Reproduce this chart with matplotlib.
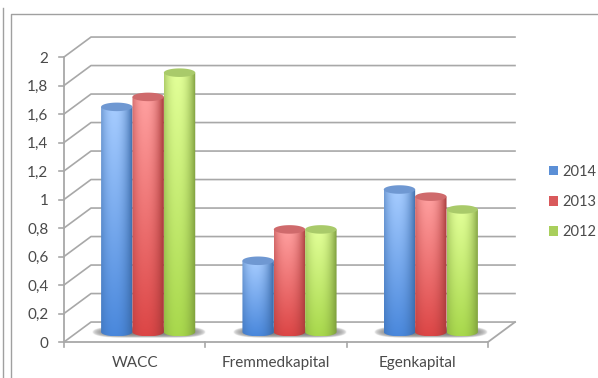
import numpy as np
import matplotlib
matplotlib.use("Agg")
import matplotlib.pyplot as plt
from matplotlib.colors import to_rgb
from matplotlib.lines import Line2D
from matplotlib.patches import Patch, PathPatch
from matplotlib.path import Path

categories = ["WACC", "Fremmedkapital", "Egenkapital"]
years = ["2014", "2013", "2012"]
values_2014 = [1.58, 0.50, 1.00]
values_2013 = [1.65, 0.72, 0.95]
values_2012 = [1.82, 0.72, 0.86]
ticks = [0, 0.2, 0.4, 0.6, 0.8, 1, 1.2, 1.4, 1.6, 1.8, 2]
tick_labels = ["0", "0,2", "0,4", "0,6", "0,8", "1", "1,2", "1,4", "1,6", "1,8", "2"]

# light top, deep bottom, dark edge, cap colour, legend colour
palette = [
    ("#a6ccff", "#4a88dc", "#3a6aa8", "#6f98d2", "#5b8fd6"),
    ("#ffa0a0", "#dc4646", "#a83a3a", "#cf6a6c", "#d9595b"),
    ("#e2ff98", "#a8d84c", "#7c9c3c", "#a9ca6a", "#a9cf5c"),
]

GRID = "#a8a8a8"
TEXT = "#4a4a4a"
BAR_W = 0.222
DX = 0.191   # depth of the floor, x units
DY = 0.14    # depth of the floor, y units
CAP = 0.03   # half height of the cylinder ellipse

plt.rcParams["font.family"] = ["Lato", "DejaVu Sans"]
fig = plt.figure(figsize=(5.98, 3.78), dpi=100)
ax = fig.add_axes([64 / 598, 36 / 378, 424 / 598, 285 / 378])
ax.axis("off")


def cylinder(xc, value, cols):
    top, bottom, edge, cap, _ = [np.array(to_rgb(c)) for c in cols]
    base = DY / 2
    h = value + base

    # body shading: bright band left of centre, dark towards both edges
    t = np.linspace(0, 1, 80)
    shade = (np.abs(t - 0.42) / 0.58) ** 2.2
    v = np.linspace(0, 1, 80)
    img = bottom + (top - bottom) * v[:, None, None]
    img = img * (1 - shade[None, :, None]) + edge * shade[None, :, None]

    # outline: lower half of the base ellipse, then straight up to the top
    th = np.linspace(np.pi, 2 * np.pi, 40)
    px = xc + BAR_W / 2 * np.cos(th)
    py = base + CAP * np.sin(th)
    outline = np.column_stack([np.r_[px, px[-1], px[0]], np.r_[py, h, h]])
    clip = PathPatch(Path(outline), transform=ax.transData, fc="none", ec="none")
    ax.add_patch(clip)
    im = ax.imshow(img, extent=[xc - BAR_W / 2, xc + BAR_W / 2, base - CAP, h],
                   origin="lower", aspect="auto", interpolation="bilinear", zorder=4)
    im.set_clip_path(clip)

    # top ellipse
    th2 = np.linspace(0, 2 * np.pi, 80)
    ax.fill(xc + BAR_W / 2 * np.cos(th2), h + CAP * np.sin(th2), color=cap, lw=0,
            zorder=4, clip_on=False)


def shadow(xc):
    w = 0.40
    gx, gy = np.meshgrid(np.linspace(-1, 1, 160), np.linspace(-1, 1, 30))
    img = np.zeros((30, 160, 4))
    img[..., :3] = 0.42
    img[..., 3] = np.clip(1 - (np.abs(gx) ** 5 + gy ** 2), 0, 1) ** 0.6 * 0.9
    ax.imshow(img, extent=[xc - w, xc + w, 0.025, 0.105], origin="lower", aspect="auto", zorder=3)


# walls and floor
for tick, label in zip(ticks, tick_labels):
    ax.plot([-0.5, -0.5 + DX, 2.5 + DX], [tick, tick + DY, tick + DY], color=GRID, lw=1.2,
            clip_on=False, zorder=1)
    ax.plot([-0.5, -0.535], [tick, tick], color=GRID, lw=1.2, clip_on=False, zorder=1)
    ax.text(-0.61, tick - 0.012, label, ha="right", va="center", fontsize=11, color=TEXT)
ax.plot([-0.5, -0.5], [0, 2], color=GRID, lw=1.3, clip_on=False, zorder=1)
ax.plot([-0.5, 2.5, 2.5 + DX], [0, 0, DY], color=GRID, lw=1.3, clip_on=False, zorder=2)
for pos in [-0.5, 0.5, 1.5, 2.5]:
    ax.plot([pos, pos], [0, -0.035], color=GRID, lw=1.2, clip_on=False, zorder=2)

series = [values_2014, values_2013, values_2012]
for i, name in enumerate(categories):
    centre = i + DX / 2
    shadow(centre)
    for j, vals in enumerate(series):
        cylinder(centre + (j - 1) * BAR_W, vals[i], palette[j])
    ax.text(i, -0.15, name, ha="center", va="center", fontsize=11, color=TEXT)

ax.set_xlim(-0.5, 2.5)
ax.set_ylim(0, 2)

handles = [Patch(facecolor=p[4], edgecolor="none") for p in palette]
fig.legend(handles, years, loc="center left", bbox_to_anchor=(549 / 598, 1 - 202 / 378),
           frameon=False, fontsize=10.5, labelcolor=TEXT, handlelength=0.62, handleheight=0.62,
           handletextpad=0.3, labelspacing=1.12, borderpad=0, borderaxespad=0)

# double frame of the surrounding sheet
frame = "#a0a0a0"
w, h = 598, 378
for xs, ys in [([3.5, 3.5], [8, 378]), ([10.5, 10.5, 598], [378, 13.5, 13.5])]:
    fig.add_artist(Line2D(np.array(xs) / w, 1 - np.array(ys) / h, color=frame, lw=1.0))

fig.savefig("out.png", dpi=100)
